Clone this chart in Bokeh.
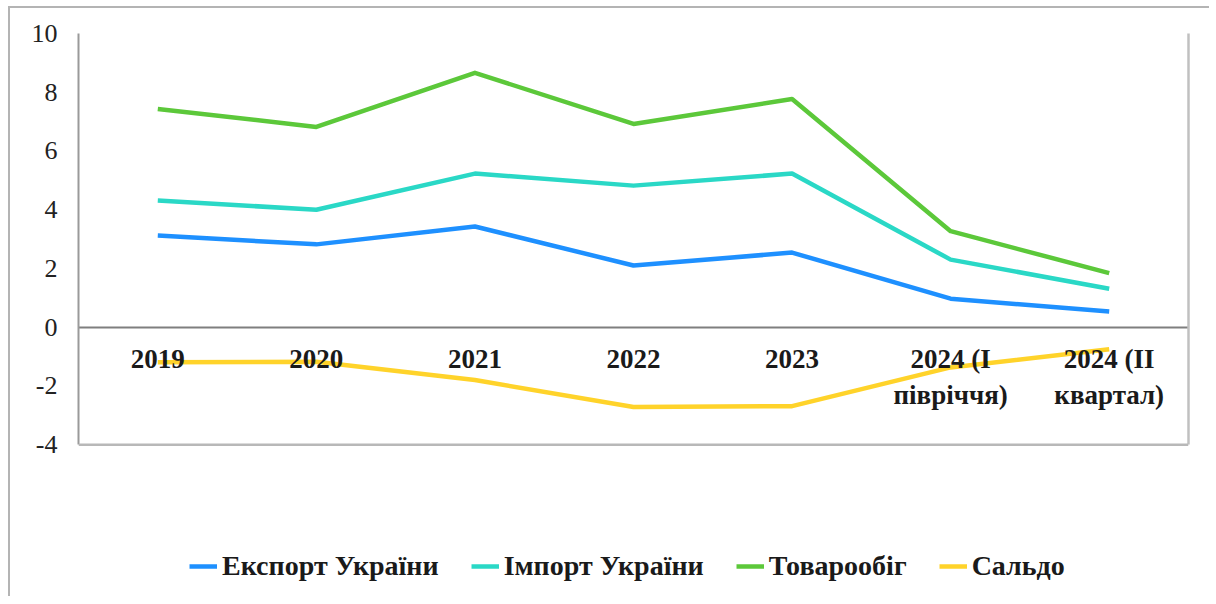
from bokeh.plotting import figure
from bokeh.models import Range1d, Span, Legend, LegendItem, FactorRange, FixedTicker, LinearAxis, PrintfTickFormatter
from bokeh.embed import file_html
from bokeh.resources import INLINE

categories = ["2019", "2020", "2021", "2022", "2023", "2024 (І\nпівріччя)", "2024 (ІІ\nквартал)"]
export_vals = [3.12, 2.82, 3.43, 2.10, 2.54, 0.97, 0.53]
import_vals = [4.31, 4.00, 5.23, 4.82, 5.23, 2.30, 1.31]
turnover_vals = [7.43, 6.82, 8.66, 6.92, 7.77, 3.27, 1.84]
saldo_vals = [-1.19, -1.18, -1.80, -2.72, -2.69, -1.37, -0.75]
series_names = ["Експорт України", "Імпорт України", "Товарообіг", "Сальдо"]
colors = ["#1e90ff", "#2ad8c6", "#5cc83a", "#ffd32a"]
y_ticks = [-4, -2, 0, 2, 4, 6, 8, 10]

FONT = "Liberation Serif"

p = figure(width=1201, height=590, x_range=FactorRange(*categories),
           y_range=Range1d(-8.83, 10), output_backend="svg", toolbar_location=None,
           min_border_left=68, min_border_right=23, min_border_top=25, min_border_bottom=12)
p.styles = {"border-left": "2px solid #b4b4b4", "border-top": "2px solid #b4b4b4",
            "margin-left": "8px", "margin-top": "6px"}
p.outline_line_color = None
p.grid.visible = False
p.background_fill_color = "white"
p.border_fill_color = "white"

renderers = []
for vals, col in zip([export_vals, import_vals, turnover_vals, saldo_vals], colors):
    r = p.line(categories, vals, line_color=col, line_width=4.5, line_join="round")
    renderers.append(r)

xa = p.xaxis[0]
xa.fixed_location = 0
xa.axis_line_color = "#7f7f7f"
xa.axis_line_width = 2
xa.major_tick_line_color = None
xa.minor_tick_line_color = None
xa.major_label_text_font = FONT
xa.major_label_text_font_style = "bold"
xa.major_label_text_font_size = "27px"
xa.major_label_text_color = "#1a1a1a"
xa.major_label_standoff = 11

ya = p.yaxis[0]
ya.ticker = FixedTicker(ticks=y_ticks)
ya.formatter = PrintfTickFormatter(format="%d")
ya.bounds = (-4, 10)
ya.axis_line_color = "#9a9a9a"
ya.axis_line_width = 2
ya.major_tick_line_color = None
ya.minor_tick_line_color = None
ya.major_label_text_font = FONT
ya.major_label_text_font_size = "26px"
ya.major_label_text_color = "#222222"
ya.major_label_standoff = 15

ra = LinearAxis(bounds=(-4, 10), ticker=FixedTicker(ticks=[]),
                axis_line_color="#c0c0c0", axis_line_width=2.5,
                major_tick_line_color=None, minor_tick_line_color=None,
                major_label_standoff=0)
p.add_layout(ra, "right")

p.add_layout(Span(location=-4, dimension="width", line_color="#b8b8b8", line_width=2.5))

legend = Legend(items=[LegendItem(label=n, renderers=[r]) for n, r in zip(series_names, renderers)],
                orientation="horizontal", location=(111, 4),
                label_text_font=FONT, label_text_font_style="bold", label_text_font_size="28px",
                label_text_color="#1a1a1a", glyph_width=28, glyph_height=12,
                spacing=32, label_standoff=5, border_line_color=None,
                background_fill_alpha=0, margin=0, padding=0)
p.add_layout(legend, "center")

open("out.html", "w").write(file_html(p, INLINE))
